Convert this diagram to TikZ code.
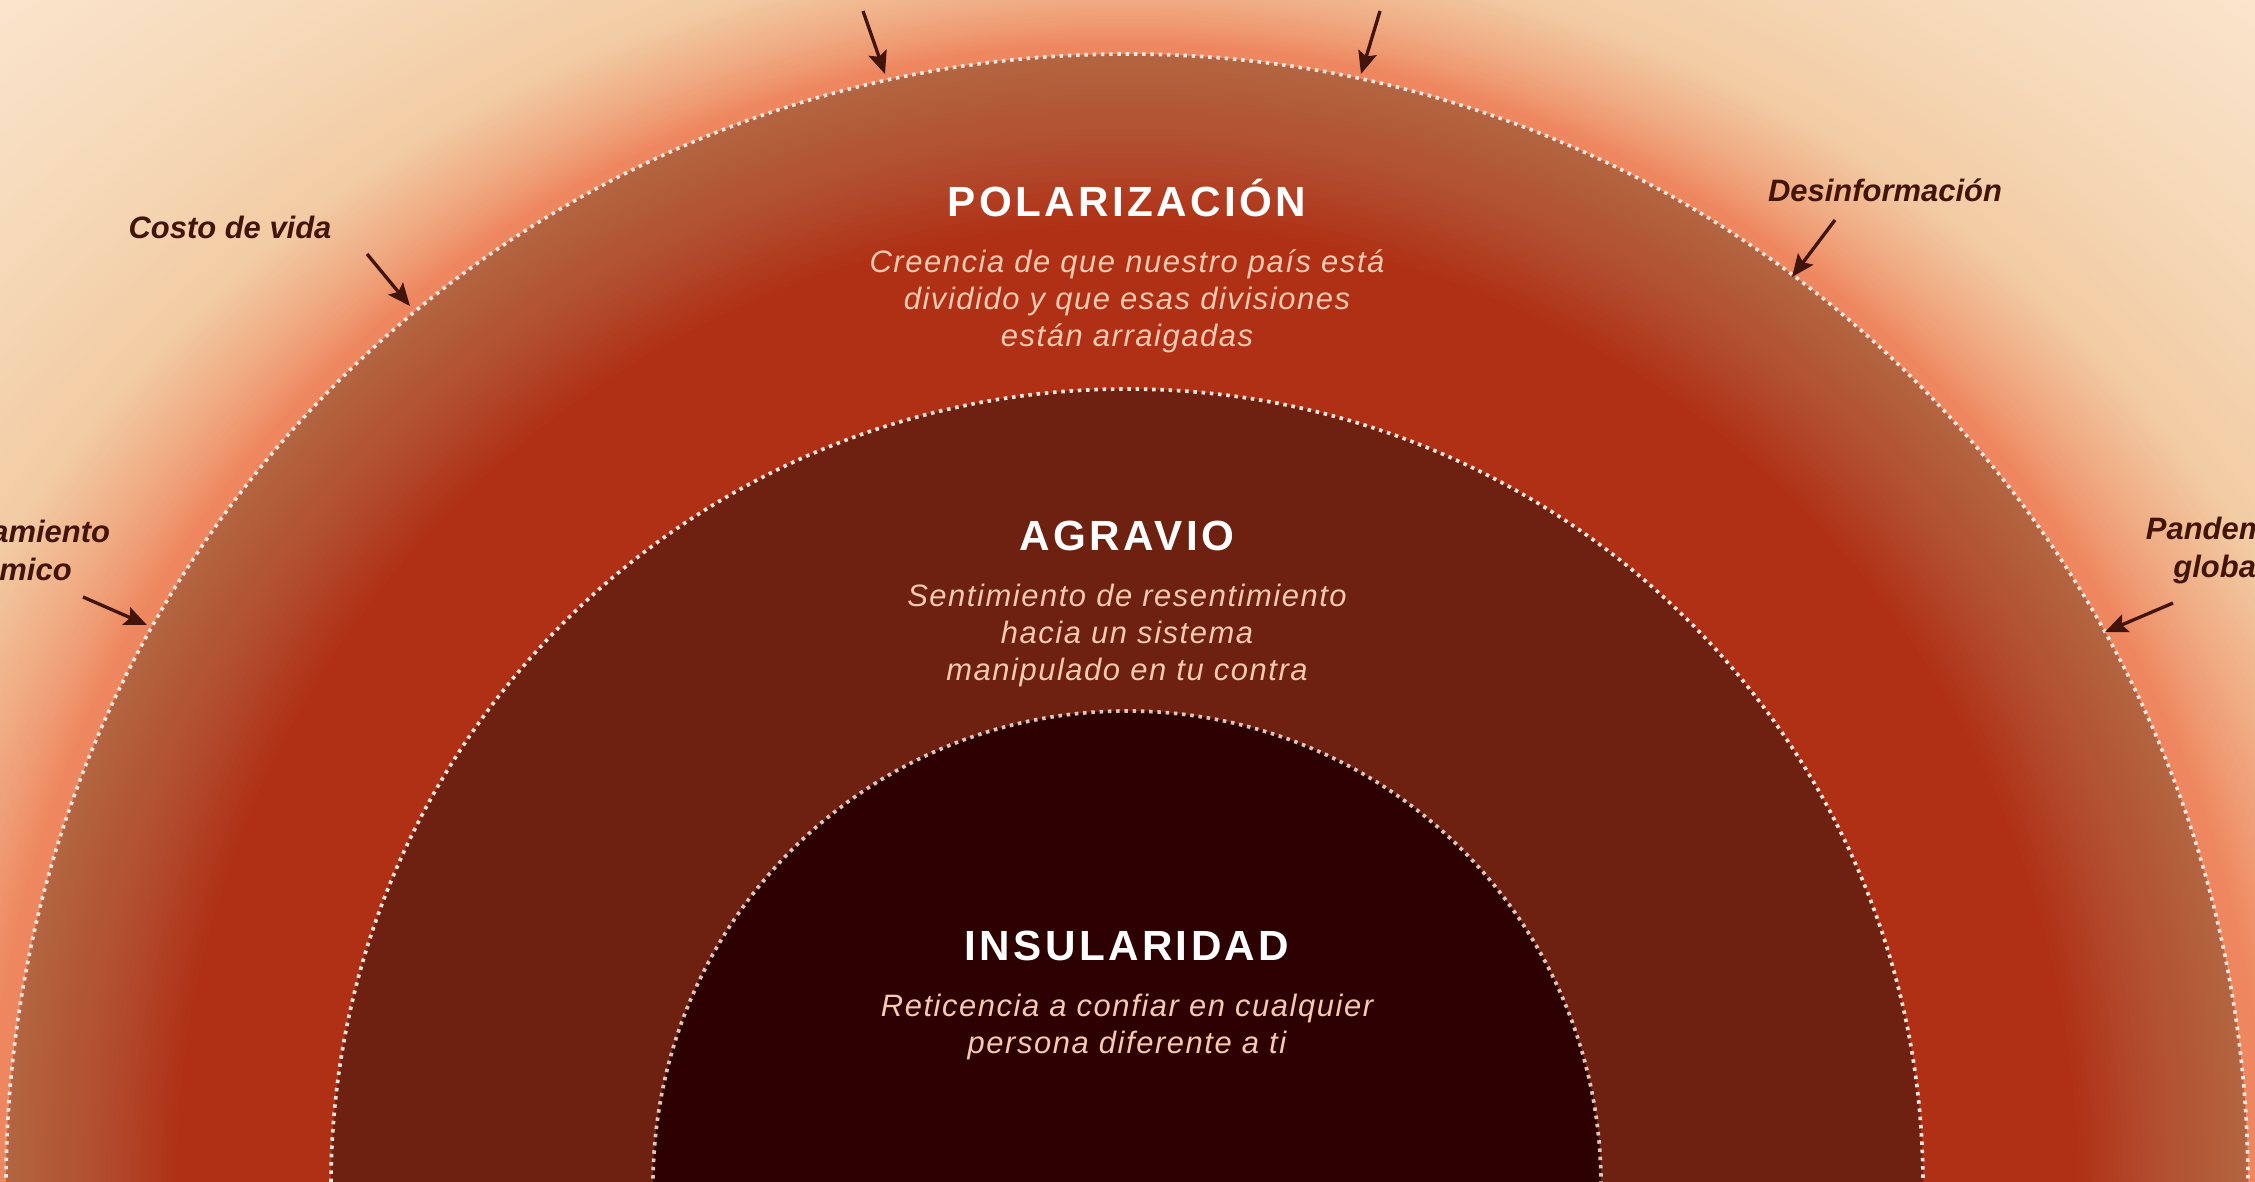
\documentclass[tikz,border=0pt]{standalone}
\usepackage{fontspec}
\setmainfont{Liberation Sans}
\newfontfamily\headfont[LetterSpace=8]{Liberation Sans}
\newfontfamily\notefont[LetterSpace=5]{Liberation Sans}
\usetikzlibrary{positioning,arrows.meta}

\definecolor{glowA}{HTML}{EE8760}
\definecolor{glowAA}{HTML}{EF9870}
\definecolor{glowB}{HTML}{F0AC84}
\definecolor{glowC}{HTML}{F2CBA3}
\definecolor{glowD}{HTML}{F6DABA}
\definecolor{glowE}{HTML}{FCE6D0}
\definecolor{ringEdge}{HTML}{B36440}
\definecolor{ringMid}{HTML}{B24E30}
\definecolor{ringRed}{HTML}{B03015}
\definecolor{midCol}{HTML}{6E2110}
\definecolor{coreCol}{HTML}{2D0101}
\definecolor{noteCol}{HTML}{F6C9B0}
\definecolor{causeCol}{HTML}{43150A}
\definecolor{dotCol}{HTML}{F4E6DE}

\begin{document}
\begin{tikzpicture}[x=0.01cm, y=-0.01cm,
    ringtitle/.style={text=white, font={\headfont\bfseries\fontsize{12}{14}\selectfont}, inner sep=0pt, anchor=base},
    ringnote/.style={text=noteCol, font={\notefont\itshape\fontsize{8.8}{10.5}\selectfont}, align=center, inner sep=0pt},
    cause/.style={text=causeCol, font={\bfseries\itshape\fontsize{8.8}{10.8}\selectfont}, align=center, inner sep=0pt},
    pointer/.style={draw=causeCol, line width=0.95pt, -{Stealth[length=6.4pt,width=5.4pt,inset=1.2pt]}},
    dotline/.style={draw=dotCol, line width=1.05pt, dash pattern=on 1pt off 1.35pt}]

    \begin{scope}
    \clip (0,0) rectangle (2255,1181);
    \coordinate (ctr) at (1127,1185);

    % Background glow
    \fill[glowE] (0,0) rectangle (2255,1181);
    \foreach \r [evaluate=\r as \p using {(\r-1380)/1.8}] in {1560,1554,...,1380}
        \fill[glowE!\p!glowD] (ctr) ellipse [x radius={1121+(\r-1131)*1.7}, y radius=\r];
    \foreach \r [evaluate=\r as \p using {(\r-1242)/1.38}] in {1380,1374,...,1242}
        \fill[glowD!\p!glowC] (ctr) ellipse [x radius={1121+(\r-1131)*1.7}, y radius=\r];
    \foreach \r [evaluate=\r as \p using {(\r-1188)/0.54}] in {1242,1239,...,1188}
        \fill[glowC!\p!glowB] (ctr) ellipse [x radius={1121+(\r-1131)*1.7}, y radius=\r];
    \foreach \r [evaluate=\r as \p using {(\r-1160)/0.28}] in {1188,1186,...,1160}
        \fill[glowB!\p!glowAA] (ctr) ellipse [x radius={1121+(\r-1131)*1.7}, y radius=\r];
    \foreach \r [evaluate=\r as \p using {(\r-1142)/0.18}] in {1160,1158,...,1142}
        \fill[glowAA!\p!glowA] (ctr) ellipse [x radius={1121+(\r-1131)*1.7}, y radius=\r];

    % Outer ring
    \foreach \r [evaluate=\r as \p using {(\r-1041)/0.9}] in {1131,1126,...,1041}
        \fill[ringEdge!\p!ringMid] (ctr) ellipse [x radius=\r-10, y radius=\r];
    \foreach \r [evaluate=\r as \p using {(\r-961)/0.8}] in {1041,1036,...,961}
        \fill[ringMid!\p!ringRed] (ctr) ellipse [x radius=\r-10, y radius=\r];

    % Inner rings
    \fill[midCol] (ctr) circle (796);
    \fill[coreCol] (ctr) circle (474);
    \draw[dotline] (ctr) ellipse [x radius=1121, y radius=1131];
    \draw[dotline] (ctr) circle (796);
    \draw[dotline, draw opacity=0.85] (ctr) circle (474);
    \end{scope}

    % Ring texts
    \node[ringtitle] (polT) at (1127,216) {POLARIZACIÓN};
    \node[ringnote, below=0.32cm of polT] (polS) {Creencia de que nuestro país está\\dividido y que esas divisiones\\están arraigadas};
    \node[ringtitle] (agrT) at (1127,550) {AGRAVIO};
    \node[ringnote, below=0.32cm of agrT] (agrS) {Sentimiento de resentimiento\\hacia un sistema\\manipulado en tu contra};
    \node[ringtitle] (insT) at (1127,960) {INSULARIDAD};
    \node[ringnote, below=0.32cm of insT] (insS) {Reticencia a confiar en cualquier\\persona diferente a ti};

    % Causes
    \node[cause] (costo) at (230,227) {Costo de vida};
    \node[cause] (estanc) at (0,550) {Estancamiento\\económico\hspace*{0.2cm}};
    \node[cause] (desinf) at (1885,190) {Desinformación};
    \node[cause] (pandem) at (2219,550) {Pandemia\\global};

    % Pointers
    \coordinate (topA0) at (863,11);   \coordinate (topA1) at (885,74);
    \coordinate (topB0) at (1380,11);  \coordinate (topB1) at (1361,74);
    \coordinate (costo0) at (367,254); \coordinate (costo1) at (410,306);
    \coordinate (estanc0) at (83,597); \coordinate (estanc1) at (147,625);
    \coordinate (desinf0) at (1835,220); \coordinate (desinf1) at (1792,277);
    \coordinate (pandem0) at (2173,603); \coordinate (pandem1) at (2105,632);
    \draw[pointer] (topA0) -- (topA1);
    \draw[pointer] (topB0) -- (topB1);
    \draw[pointer] (costo0) -- (costo1);
    \draw[pointer] (estanc0) -- (estanc1);
    \draw[pointer] (desinf0) -- (desinf1);
    \draw[pointer] (pandem0) -- (pandem1);

    \pgfresetboundingbox
    \useasboundingbox (0,0) rectangle (2255,1181);
\end{tikzpicture}
\end{document}
